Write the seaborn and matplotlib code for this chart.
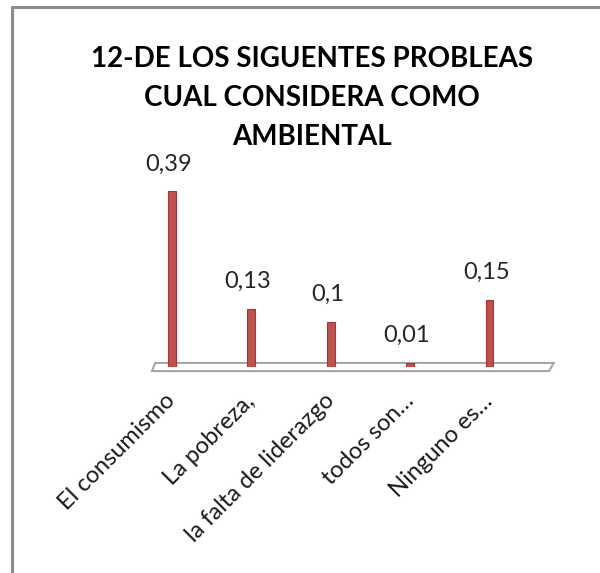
import matplotlib
matplotlib.use("Agg")
import pandas as pd
import seaborn as sns
import matplotlib.pyplot as plt
from matplotlib.patches import Polygon
from matplotlib.lines import Line2D

# ------------------------------- chart data -----------------------------------
categories = ["El consumismo", "La pobreza,", "la falta de liderazgo",
              "todos son\u2026", "Ninguno es\u2026"]
values = [0.39, 0.13, 0.10, 0.01, 0.15]
value_labels = ["0,39", "0,13", "0,1", "0,01", "0,15"]
title = "12-DE LOS SIGUENTES PROBLEAS\nCUAL CONSIDERA COMO\nAMBIENTAL"

df = pd.DataFrame({"categoria": categories, "valor": values})

sns.set_style("white")
plt.rcParams["font.family"] = ["Lato", "DejaVu Sans"]

fig = plt.figure(figsize=(6, 5.73), dpi=100)
ax = fig.add_axes([148 / 600, 1 - 367 / 573, 405 / 600, 189 / 573])

# floor of the pseudo 3d chart
floor = Polygon([(-0.25, -0.009), (4.75, -0.009), (4.81, 0.009), (-0.21, 0.009)],
                closed=True, facecolor="white", edgecolor="#a6a6a6",
                linewidth=1.5, clip_on=False, zorder=1)
ax.add_patch(floor)

sns.barplot(data=df, x="categoria", y="valor", color="#c0504d", width=0.1,
            saturation=1, edgecolor="#9b3b38", linewidth=0.8, ax=ax, zorder=3)

for i, (v, lab) in enumerate(zip(values, value_labels)):
    ax.annotate(lab, (i - 0.04, v), xytext=(0, 12), textcoords="offset points",
                ha="center", va="bottom", fontsize=17, color="#262626")

ax.set_xlim(-0.3, 4.8)
ax.set_ylim(0, 0.42)
ax.set_xlabel("")
ax.set_ylabel("")
ax.set_yticks([])
ax.tick_params(axis="x", length=0, pad=22)
plt.setp(ax.get_xticklabels(), rotation=45, ha="right", va="center",
         rotation_mode="anchor", fontsize=17, color="#1a1a1a")
sns.despine(ax=ax, left=True, bottom=True)

fig.text(0.52, 0.919, title, ha="center", va="top", fontsize=20,
         fontweight="bold", linespacing=1.62, color="black")

# outer frame of the chart area (top and left edges visible)
fig.add_artist(Line2D([12 / 600, 1], [1 - 7 / 573, 1 - 7 / 573],
                      color="#8c8c8c", linewidth=2.2))
fig.add_artist(Line2D([12 / 600, 12 / 600], [0, 1 - 7 / 573],
                      color="#8c8c8c", linewidth=2.2))

fig.savefig("out.png", dpi=100)
